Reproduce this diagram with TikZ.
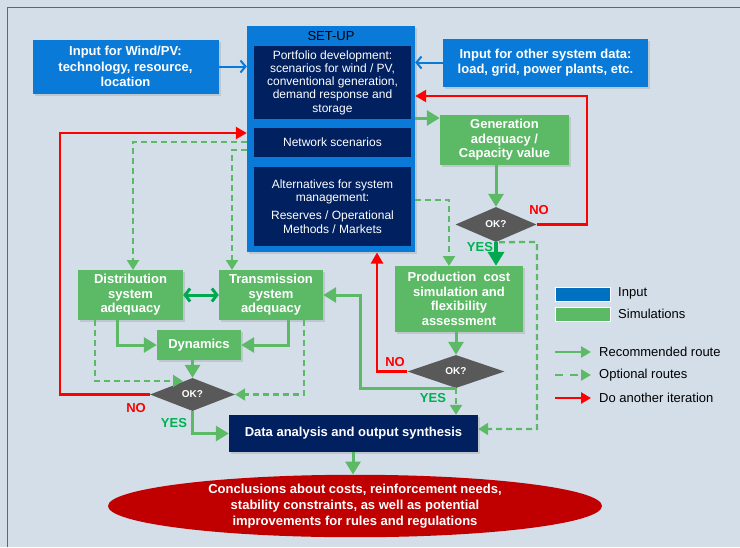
\documentclass[tikz,border=0pt]{standalone}
\usepackage{fontspec}
\setmainfont{Liberation Sans}
\usetikzlibrary{shapes.geometric,arrows.meta,shadows}
\definecolor{bg}{RGB}{212,222,233}
\definecolor{inblue}{RGB}{10,122,216}
\definecolor{navy}{RGB}{0,32,96}
\definecolor{simgreen}{RGB}{92,186,102}
\definecolor{dkgreen}{RGB}{0,168,80}
\definecolor{yesgreen}{RGB}{0,176,80}
\definecolor{okgray}{RGB}{89,89,89}
\definecolor{ellred}{RGB}{192,0,0}
\definecolor{frameblue}{RGB}{46,117,182}
\definecolor{legblue}{RGB}{0,112,192}
\definecolor{redline}{RGB}{255,0,0}
\begin{document}
\begin{tikzpicture}[x=1pt,y=-1pt,
 shad/.style={drop shadow={opacity=0.25,shadow xshift=2pt,shadow yshift=-2pt}},
 box/.style={rectangle, inner sep=0pt, align=center, text=white, font=\fontsize{13}{15.5}\selectfont\bfseries},
 inbox/.style={box, fill=inblue, shad},
 simbox/.style={box, fill=simgreen, shad, font=\fontsize{13}{14.6}\selectfont\bfseries},
 navybox/.style={rectangle, inner sep=0pt, align=center, fill=navy, text=white, font=\fontsize{12}{13.3}\selectfont},
 okd/.style={diamond, fill=okgray, text=white, inner sep=0pt, font=\fontsize{10}{12}\selectfont\bfseries},
 garr/.style={draw=simgreen, line width=3pt, -{Triangle[length=13pt,width=15pt]}},
 gdash/.style={draw=simgreen, line width=2.3pt, dash pattern=on 6pt off 4pt, -{Triangle[length=10pt,width=12pt]}},
 rarr/.style={draw=redline, line width=2.3pt, -{Triangle[length=11pt,width=12pt]}},
 barr/.style={draw=inblue, line width=2pt, -{Straight Barb[length=5pt,width=12pt,line width=2pt]}},
 yeslab/.style={text=yesgreen, font=\fontsize{13}{15}\selectfont\bfseries, inner sep=0pt},
 nolab/.style={text=redline, font=\fontsize{13}{15}\selectfont\bfseries, inner sep=0pt},
 legtext/.style={anchor=west, inner sep=0pt, font=\fontsize{13}{15}\selectfont}
]
\useasboundingbox (0,0) rectangle (740,547);
\fill[bg] (0,0) rectangle (740,547);
\draw[frameblue, line width=1pt] (7,547) -- (7,7) -- (740,7);

% input boxes
\node[inbox, minimum width=186pt, minimum height=54pt] (wind) at (125.5,66.5) {Input for Wind/PV:\\technology, resource,\\location};
\node[inbox, minimum width=205pt, minimum height=48pt] (other) at (545.5,62.5) {Input for other system data:\\load, grid, power plants, etc.};

% setup
\node[rectangle, fill=inblue, shad, minimum width=168pt, minimum height=226pt, inner sep=0pt] (setup) at (331,139) {};
\node[inner sep=0pt, font=\fontsize{13}{15}\selectfont] (setuplab) at (331,36.5) {SET-UP};
\node[navybox, minimum width=157pt, minimum height=73pt] (portfolio) at (332.5,82.5) {Portfolio development:\\scenarios for wind / PV,\\conventional generation,\\demand response and\\storage};
\node[navybox, minimum width=157pt, minimum height=29pt] (network) at (332.5,142.5) {Network scenarios};
\node[navybox, minimum width=157pt, minimum height=79pt] (alt) at (332.5,206.5) {Alternatives for system\\management:\\[5pt]Reserves / Operational\\Methods / Markets};

% simulations
\node[simbox, minimum width=129pt, minimum height=50pt] (genad) at (504.5,140) {Generation\\adequacy /\\Capacity value};
\node[simbox, minimum width=128pt, minimum height=66pt] (prod) at (459,299) {Production\ \ cost\\simulation and\\flexibility\\assessment};
\node[simbox, minimum width=105pt, minimum height=50pt] (dist) at (130.5,295) {Distribution\\system\\adequacy};
\node[simbox, minimum width=104pt, minimum height=50pt] (trans) at (271,295) {Transmission\\system\\adequacy};
\node[simbox, minimum width=84pt, minimum height=30pt] (dyn) at (199,345) {Dynamics};

% decisions
\node[okd, minimum width=81pt, minimum height=35pt, aspect=2.3] (ok1) at (496,224.5) {OK?};
\node[okd, minimum width=97pt, minimum height=33pt, aspect=2.9] (ok2) at (456,371.5) {OK?};
\node[okd, minimum width=85pt, minimum height=33pt, aspect=2.6] (ok3) at (192.5,394.5) {OK?};

% output
\node[box, fill=navy, shad, minimum width=249pt, minimum height=37pt] (data) at (353.5,433.5) {Data analysis and output synthesis};
\node[ellipse, fill=ellred, inner sep=0pt, minimum width=494pt, minimum height=62pt, align=center, text=white, font=\fontsize{13}{16}\selectfont\bfseries] (concl) at (355,506) {Conclusions about costs, reinforcement needs,\\stability constraints, as well as potential\\improvements for rules and regulations};

% input arrows
\draw[barr] (wind.east) -- (wind.east -| setup.west);
\draw[barr] (other.west) -- (other.west -| setup.east);

% setup -> generation adequacy
\draw[garr] (setup.east |- 0,118) -- (genad.west |- 0,118);
\draw[garr] (genad.south -| ok1.north) -- (ok1.north);
\draw[rarr] (ok1.east) -| (587,96) -- (setup.east |- 0,96);
\draw[draw=dkgreen, line width=4pt, -{Triangle[length=14pt,width=16pt]}] (ok1.south) -- (ok1.south |- prod.north);
\draw[gdash] ([xshift=3pt]ok1.south) -- (537,242) -- (537,429) -- (data.east |- 0,429);
\draw[gdash] (setup.east |- 0,200) -| (449,266);

% production
\draw[garr] (ok2.north |- prod.south) -- (ok2.north);
\draw[rarr] (ok2.west) -| (377,252.5);
\draw[garr] (ok2.south) -| (360,295) -- (trans.east);
\draw[gdash] (ok2.south) -- (ok2.south |- data.north);

% network side
\draw[gdash] (setup.west |- 0,142) -| (133,270);
\draw[gdash] (setup.west |- 0,150) -| (232,270);
\draw[draw=dkgreen, line width=3pt, {Straight Barb[length=5pt,width=13pt,line width=3pt]}-{Straight Barb[length=5pt,width=13pt,line width=3pt]}] (dist.east) -- (trans.west);
\draw[garr] (117,320) |- (dyn.west);
\draw[garr] (288,320) |- (dyn.east);
\draw[garr] (ok3.north |- dyn.south) -- (ok3.north);
\draw[gdash] (95,320) |- (183,381);
\draw[gdash] (304,320) |- (ok3.east);
\draw[rarr] (ok3.west) -| (60,133) -- (setup.west |- 0,133);
\draw[garr] (ok3.south) |- (data.west);
\draw[garr] (data.south -| 353,0) -- (concl.north -| 353,0);

% yes / no labels
\node[nolab] (no1) at (539,210.5) {NO};
\node[yeslab] (yes1) at (480,247) {YES};
\node[nolab] (no2) at (395,362) {NO};
\node[yeslab] (yes2) at (433,398) {YES};
\node[nolab] (no3) at (136,408) {NO};
\node[yeslab] (yes3) at (174,423) {YES};

% legend
\node[rectangle, fill=legblue, draw=white, line width=1pt, minimum width=55pt, minimum height=14pt, inner sep=0pt] (leginput) at (582.5,294) {};
\node[rectangle, fill=simgreen, draw=white, line width=1pt, minimum width=55pt, minimum height=14pt, inner sep=0pt] (legsim) at (582.5,314) {};
\node[legtext] (legt1) at (618,293.5) {Input};
\node[legtext] (legt2) at (618,313.5) {Simulations};
\coordinate (l1a) at (555,352); \coordinate (l1b) at (591,352);
\coordinate (l2a) at (555,375); \coordinate (l2b) at (591,375);
\coordinate (l3a) at (555,398); \coordinate (l3b) at (591,398);
\draw[draw=simgreen, line width=2.5pt, -{Triangle[length=10pt,width=11pt]}] (l1a) -- (l1b);
\draw[draw=simgreen, line width=2.5pt, dash pattern=on 8pt off 7pt, -{Triangle[length=10pt,width=11pt]}] (l2a) -- (l2b);
\draw[draw=redline, line width=2.5pt, -{Triangle[length=10pt,width=11pt]}] (l3a) -- (l3b);
\node[legtext] (legt3) at (599,352) {Recommended route};
\node[legtext] (legt4) at (599,375) {Optional routes};
\node[legtext] (legt5) at (599,398) {Do another iteration};
\end{tikzpicture}
\end{document}
